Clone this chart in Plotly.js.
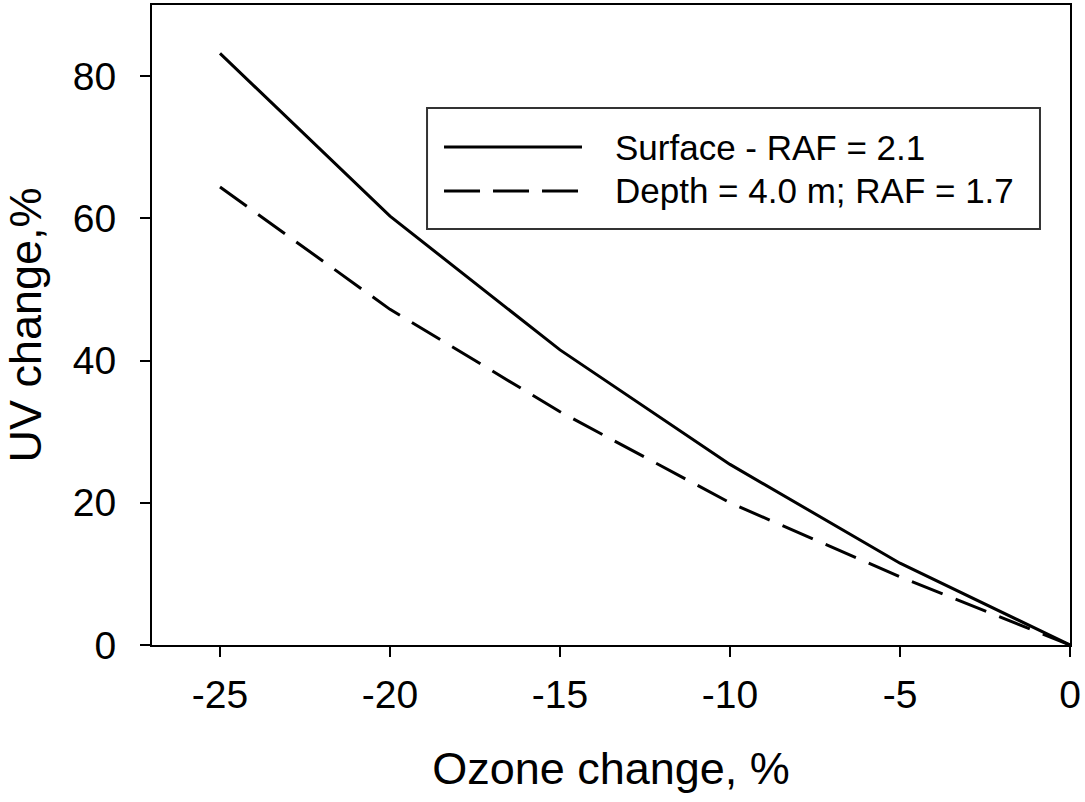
<!DOCTYPE html>
<html>
<head>
<meta charset="utf-8">
<script src="https://cdn.plot.ly/plotly-3.0.1.min.js"></script>
<style>
  html, body { margin: 0; padding: 0; background: #fff; }
  #chart { width: 1085px; height: 802px; }
</style>
</head>
<body>
<div id="chart"></div>
<script>
// ---- data ----
const ozoneChange = [-25, -20, -15, -10, -5, 0];
const surfaceUV = [83.2, 60.3, 41.5, 25.4, 11.5, 0];
const depthUV = [64.4, 47.2, 32.8, 20.0, 9.6, 0];
const seriesNames = ["Surface - RAF = 2.1", "Depth = 4.0 m; RAF = 1.7"];
const xTicks = [-25, -20, -15, -10, -5, 0];
const yTicks = [0, 20, 40, 60, 80];

const FONT = "Liberation Sans, Arial, sans-serif";

const traces = [
  {
    x: ozoneChange, y: surfaceUV, name: seriesNames[0],
    type: "scatter", mode: "lines",
    line: { color: "#000", width: 3 },
    showlegend: false, hoverinfo: "x+y"
  },
  {
    x: ozoneChange, y: depthUV, name: seriesNames[1],
    type: "scatter", mode: "lines",
    line: { color: "#000", width: 3, dash: "33px,14px" },
    showlegend: false, hoverinfo: "x+y"
  }
];

const layout = {
  width: 1085, height: 802,
  margin: { l: 152, r: 15, t: 5, b: 157, pad: 0 },
  paper_bgcolor: "#fff", plot_bgcolor: "#fff",
  font: { family: FONT, color: "#000", size: 39 },
  showlegend: false,
  xaxis: {
    range: [-27, 0], tickvals: xTicks, ticktext: xTicks.map(String),
    showgrid: false, zeroline: false,
    showline: true, linecolor: "#000", linewidth: 2, mirror: true,
    ticks: "outside", ticklen: 10, tickwidth: 2, tickcolor: "#000",
    tickfont: { family: FONT, size: 39, color: "#000" },
    ticklabelstandoff: 4,
    title: { text: "Ozone change, %", font: { family: FONT, size: 45, color: "#000" }, standoff: 38 }
  },
  yaxis: {
    range: [0, 90], tickvals: yTicks, ticktext: yTicks.map(String),
    showgrid: false, zeroline: false,
    showline: true, linecolor: "#000", linewidth: 2, mirror: true,
    ticks: "outside", ticklen: 10, tickwidth: 2, tickcolor: "#000",
    tickfont: { family: FONT, size: 39, color: "#000" },
    ticklabelstandoff: 16,
    title: { text: "UV change,%", font: { family: FONT, size: 45, color: "#000" }, standoff: 20 }
  },
  shapes: [
    { type: "rect", xref: "paper", yref: "paper",
      x0: 0.2996, x1: 0.9673, y0: 0.65, y1: 0.8391,
      line: { color: "#333", width: 2 }, fillcolor: "rgba(0,0,0,0)" },
    { type: "line", xref: "paper", yref: "paper",
      x0: 0.3181, x1: 0.4684, y0: 0.7781, y1: 0.7781,
      line: { color: "#000", width: 3 } },
    { type: "line", xref: "paper", yref: "paper",
      x0: 0.3181, x1: 0.4684, y0: 0.7094, y1: 0.7094,
      line: { color: "#000", width: 3, dash: "36px,13px" } }
  ],
  annotations: [
    { xref: "paper", yref: "paper", x: 0.5022, y: 0.7781,
      xanchor: "left", yanchor: "middle", showarrow: false,
      text: seriesNames[0], font: { family: FONT, size: 35, color: "#000" } },
    { xref: "paper", yref: "paper", x: 0.5022, y: 0.7094,
      xanchor: "left", yanchor: "middle", showarrow: false,
      text: seriesNames[1], font: { family: FONT, size: 35, color: "#000" } }
  ]
};

Plotly.newPlot("chart", traces, layout, { displayModeBar: false, staticPlot: true });
</script>
</body>
</html>
